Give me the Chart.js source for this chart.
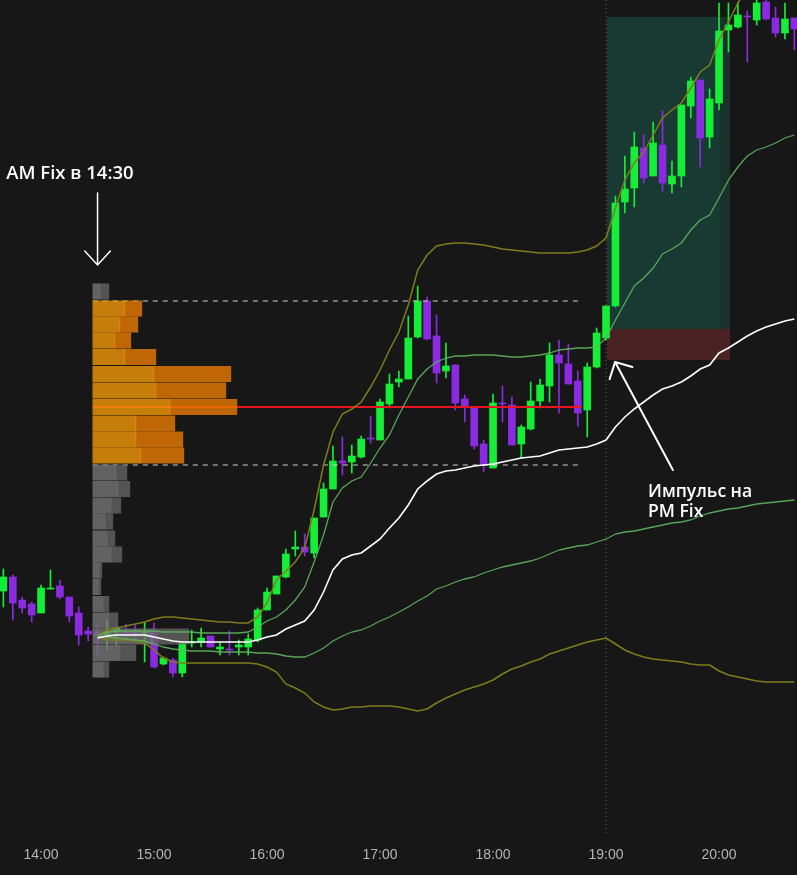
<!DOCTYPE html>
<html>
<head>
<meta charset="utf-8">
<script src="https://cdn.jsdelivr.net/npm/chart.js@4.4.1/dist/chart.umd.min.js"></script>
<style>
  html, body { margin: 0; padding: 0; background: #171717; }
  #wrap { width: 797px; height: 875px; position: relative; }
</style>
</head>
<body>
<div id="wrap"><canvas id="chart"></canvas></div>
<script>
// 5-minute candles, first one at 13:40 (minutes after midnight)
const firstBar = 13 * 60 + 40;
const opens  = [409,423,400,396,387,411,414,403,387,369,367,365,368,368,368,367,368,336,340,327,357,358,364,351,351,353,353,360,390,406,423,451,453,447,483,511,539,538,543,562,560,596,618,621,663,699,664,629,635,601,593,556,532,597,595,556,571,599,614,645,636,619,590,633,662,694,798,812,852,824,855,816,824,894,920,863,897,970,973,984,980,998,982,967,982];
const highs  = [431,425,403,398,415,430,420,403,393,373,375,380,373,376,375,378,377,343,342,358,370,372,364,357,369,360,366,392,412,424,451,469,466,482,517,554,563,555,564,584,601,626,629,684,714,703,685,657,635,605,593,560,606,614,603,575,618,621,657,660,656,629,637,672,694,804,844,868,865,878,889,839,895,923,920,911,997,997,998,989,1000,1000,993,997,982];
const lows   = [393,380,387,378,387,411,401,378,355,359,345,350,355,362,360,338,332,335,323,323,353,353,353,345,345,345,345,358,390,406,422,444,444,442,483,511,525,527,542,557,560,592,613,621,662,660,617,622,590,578,551,528,532,578,555,542,570,592,598,587,616,574,563,632,660,693,787,793,817,824,809,807,813,882,833,852,890,948,972,938,975,980,963,961,950];
const closes = [423,397,392,385,412,412,403,384,365,366,364,368,372,367,366,368,333,342,327,357,358,362,353,353,350,355,361,390,408,424,446,453,448,482,511,539,537,544,561,561,598,616,621,662,699,661,627,634,597,594,554,535,597,596,555,573,599,615,645,637,616,587,633,667,694,797,811,853,822,857,817,824,895,919,862,901,969,975,985,983,997,981,967,981,971];

// anchored bands, starting at the AM Fix bar (14:30)
const bandStart = 14 * 60 + 30;
const vwap      = [362,364,365,365,365,365,363,361,359,358,358,358,358,358,358,358,358,360,363,365,371,375,379,390,408,430,441,445,447,454,461,472,482,495,511,519,526,529,530,532,534,535,536,538,540,542,543,544,547,550,551,552,553,556,560,573,583,591,598,605,611,614,618,624,631,635,647,652,658,664,669,673,676,679,681];
const upper1    = [364,368,369,369,369,369,369,368,368,368,368,367,367,367,367,367,368,373,379,383,390,400,413,438,465,498,512,519,523,537,552,565,585,603,621,631,638,642,644,644,645,645,645,644,643,643,644,645,647,650,651,652,652,653,662,680,697,714,722,732,746,751,757,770,780,785,802,820,833,844,850,853,857,862,865];
const upper2    = [364,370,372,374,376,378,381,383,383,382,381,380,379,378,378,377,377,383,397,420,429,438,452,490,535,568,586,591,598,613,630,650,668,695,730,745,754,756,757,757,756,755,753,751,750,749,748,747,747,747,747,748,750,754,762,792,820,837,848,865,882,890,897,912,928,935,960,978,997,1012,1020,1025,1028,1032,1035];
const lower1    = [364,363,362,361,360,359,356,353,351,350,349,349,349,348,348,348,348,347,347,346,344,343,343,347,352,359,364,368,370,374,379,383,388,393,399,404,411,414,418,421,423,427,430,433,435,437,439,442,446,450,452,454,455,458,461,466,468,469,471,473,475,477,478,480,484,487,489,491,492,494,496,497,498,499,500];
const lower2    = [364,360,360,360,359,357,350,342,338,337,337,337,337,337,337,337,337,336,333,328,316,312,307,298,293,290,291,293,293,294,294,294,293,291,289,291,297,302,306,310,313,316,320,326,331,334,338,341,346,349,352,355,358,360,362,356,350,346,343,341,340,339,338,336,335,335,329,325,323,321,319,318,318,318,318];

// volume profile of the morning session
const pvLevels  = [708.5,691.5,675.5,659.5,643,626,609.5,593,576.5,560.5,544.5,527.5,511,494.5,478.5,461.5,445.5,429.5,413,396,379.5,363.5,347,330.5];
const pvBuy     = [7,32,27,22,32,61,63,77,43,43,48,23,25,18,12,14,18,6,5,10,16,60,27,10];
const pvSell    = [9,17,18,16,31,77,70,67,39,47,43,11,12,10,8,8,11,3,3,6,9,36,16,6];
const pocLevel = 593, vaHigh = 699, vaLow = 535;
const pvStart = 867.5, pvEnd = 1127;

// PM Fix zone
const zoneStart = 1140.5, zoneEnd = 1201, zoneEdge = 1206;
const zoneTop = 983, zoneMid = 671, zoneBottom = 640;
const pmFix = 19 * 60;

const hourTicks  = [840, 900, 960, 1020, 1080, 1140, 1200];
const hourLabels = ['14:00', '15:00', '16:00', '17:00', '18:00', '19:00', '20:00'];

const UP = '#14ee36', DOWN = '#8a2be2';
const VOL_TO_MIN = 0.531;

const times = opens.map((_, i) => firstBar + 5 * i);
const colors = opens.map((o, i) => closes[i] >= o ? UP : DOWN);
const bandPts = arr => arr.map((v, i) => ({ x: bandStart + 5 * i, y: v }));
const flat = (x1, x2, y) => [{ x: x1, y: y }, { x: x2, y: y }];

function lineDs(data, color, width, order, dash) {
    return {
        type: 'line', data: data, borderColor: color, borderWidth: width,
        borderDash: dash || [], pointRadius: 0, tension: 0, fill: false, order: order
    };
}
function boxDs(x1, x2, top, bottom, color) {
    return {
        type: 'line', data: flat(x1, x2, top), borderWidth: 0, pointRadius: 0,
        backgroundColor: color, fill: { value: bottom }, order: 12
    };
}

let inVA = pvLevels.map(l => l < vaHigh && l > vaLow);

const datasets = [
    boxDs(zoneStart, zoneEnd, zoneTop, zoneMid, 'rgb(24,58,51)'),
    boxDs(zoneEnd, zoneEdge, zoneTop, zoneMid, 'rgb(27,47,43)'),
    boxDs(zoneStart, zoneEdge, zoneMid, zoneBottom, 'rgb(74,34,36)'),
    lineDs([{ x: pmFix, y: 1000 }, { x: pmFix, y: 165 }], '#606060', 1, 11, [1, 3]),
    {
        type: 'bar', data: times.map((t, i) => ({ x: t, y: [lows[i], highs[i]] })),
        backgroundColor: colors, barThickness: 1, grouped: false, order: 8
    },
    {
        type: 'bar', data: times.map((t, i) => ({ x: t, y: [opens[i], closes[i]] })),
        backgroundColor: colors, barThickness: 7, grouped: false, order: 7
    },
    lineDs(flat(pvStart, pvEnd, vaHigh), '#d0d0d0', 1, 6, [5, 5]),
    lineDs(flat(pvStart, pvEnd, vaLow), '#d0d0d0', 1, 6, [5, 5]),
    lineDs(flat(pvStart, pvEnd, pocLevel), '#e8141e', 2, 6),
    {
        type: 'bar', indexAxis: 'y',
        data: pvLevels.map((l, i) => ({ y: l, x: [pvStart, pvStart + pvBuy[i] * VOL_TO_MIN] })),
        backgroundColor: inVA.map(v => v ? 'rgba(243,153,7,0.8)' : 'rgba(118,118,118,0.8)'),
        barThickness: 15.4, grouped: false, order: 5
    },
    {
        type: 'bar', indexAxis: 'y',
        data: pvLevels.map((l, i) => ({ y: l, x: [pvStart + pvBuy[i] * VOL_TO_MIN, pvStart + (pvBuy[i] + pvSell[i]) * VOL_TO_MIN] })),
        backgroundColor: inVA.map(v => v ? 'rgba(234,124,2,0.8)' : 'rgba(100,100,100,0.8)'),
        barThickness: 15.4, grouped: false, order: 5
    },
    lineDs(bandPts(upper2), '#7f7c1a', 1.5, 3),
    lineDs(bandPts(lower2), '#7f7c1a', 1.5, 3),
    lineDs(bandPts(upper1), 'rgba(95,180,95,0.9)', 1.3, 2),
    lineDs(bandPts(lower1), 'rgba(95,180,95,0.9)', 1.3, 2),
    lineDs(bandPts(vwap), '#ffffff', 1.6, 1)
];

// notes and arrows, placed in chart coordinates (minutes, price)
const notes = [
    { t: 821.5, v: 821, text: 'AM Fix в 14:30', size: 18.5 },
    { t: 1162.3, v: 503, text: 'Импульс на', size: 17.5 },
    { t: 1162.3, v: 483, text: 'PM Fix', size: 17.5 }
];
const arrows = [
    { from: [870, 807], to: [870, 735], width: 1.5, head: 19, spread: 0.74 },
    { from: [1175.5, 530], to: [1144.8, 638], width: 2, head: 18, spread: 0.8 }
];

const notesPlugin = {
    id: 'notes',
    afterDatasetsDraw(chart) {
        const { ctx, scales: { x, y } } = chart;
        ctx.save();
        ctx.fillStyle = '#ffffff';
        ctx.strokeStyle = '#ffffff';
        ctx.textBaseline = 'alphabetic';
        notes.forEach(n => {
            ctx.font = '600 ' + n.size + 'px "Open Sans"';
            ctx.fillText(n.text, x.getPixelForValue(n.t), y.getPixelForValue(n.v));
        });
        arrows.forEach(a => {
            const x1 = x.getPixelForValue(a.from[0]), y1 = y.getPixelForValue(a.from[1]);
            const x2 = x.getPixelForValue(a.to[0]), y2 = y.getPixelForValue(a.to[1]);
            const ang = Math.atan2(y1 - y2, x1 - x2);
            ctx.lineWidth = a.width;
            ctx.lineCap = 'round';
            ctx.beginPath();
            ctx.moveTo(x1, y1);
            ctx.lineTo(x2, y2);
            ctx.moveTo(x2 + a.head * Math.cos(ang + a.spread), y2 + a.head * Math.sin(ang + a.spread));
            ctx.lineTo(x2, y2);
            ctx.lineTo(x2 + a.head * Math.cos(ang - a.spread), y2 + a.head * Math.sin(ang - a.spread));
            ctx.stroke();
        });
        ctx.restore();
    }
};

new Chart(document.getElementById('chart'), {
    type: 'bar',
    data: { datasets: datasets },
    options: {
        responsive: true,
        maintainAspectRatio: false,
        animation: false,
        layout: { padding: 0 },
        plugins: { legend: { display: false }, tooltip: { enabled: false } },
        scales: {
            x: {
                type: 'linear', min: 818.2, max: 1241.4, offset: false,
                grid: { display: false, drawTicks: false }, border: { display: false },
                afterBuildTicks: s => { s.ticks = hourTicks.map(v => ({ value: v })); },
                afterFit: s => { s.height = 40; },
                ticks: {
                    autoSkip: false, maxRotation: 0, padding: 12, color: '#b5b5b5',
                    font: { family: 'Liberation Sans', size: 14 },
                    callback: (v, i) => hourLabels[i]
                }
            },
            y: { type: 'linear', min: 165, max: 1000, display: false, offset: false }
        }
    },
    plugins: [notesPlugin]
});
</script>
</body>
</html>
